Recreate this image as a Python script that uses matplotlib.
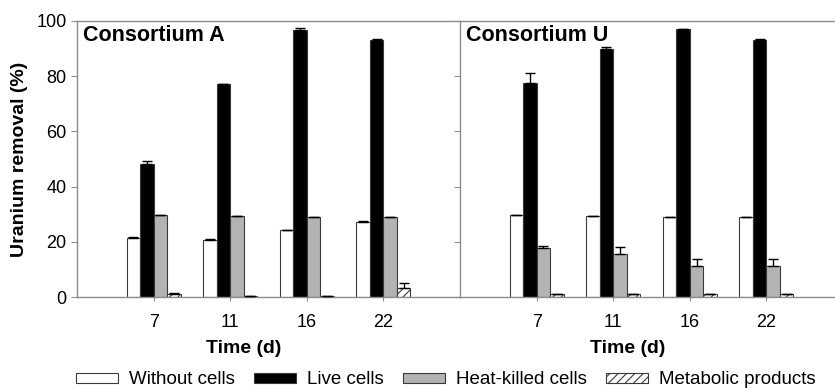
import numpy as np
import matplotlib
matplotlib.use('Agg')
import matplotlib.pyplot as plt
from matplotlib.patches import Patch

plt.rcParams['font.family'] = ['Liberation Sans', 'DejaVu Sans']
plt.rcParams['hatch.linewidth'] = 0.8

days = ['7', '11', '16', '22']
series = ['Without cells', 'Live cells', 'Heat-killed cells', 'Metabolic products']

# consortium A: mean and upper error per series
a_without = [21.5, 20.8, 24.3, 27.0]
a_without_err = [0.3, 0.3, 0.0, 0.4]
a_live = [48.1, 77.0, 96.7, 93.2]
a_live_err = [1.3, 0.0, 0.7, 0.2]
a_heat = [29.7, 29.3, 28.9, 28.9]
a_heat_err = [0.0, 0.0, 0.0, 0.2]
a_metab = [1.2, 0.2, 0.2, 3.4]
a_metab_err = [0.4, 0.0, 0.0, 1.8]

# consortium U
u_without = [29.7, 29.3, 28.9, 28.9]
u_without_err = [0.0, 0.0, 0.0, 0.0]
u_live = [77.7, 89.7, 97.2, 93.2]
u_live_err = [3.3, 0.9, 0.0, 0.2]
u_heat = [17.8, 15.4, 11.2, 11.2]
u_heat_err = [0.8, 2.6, 2.5, 2.5]
u_metab = [1.2, 1.2, 1.0, 1.0]
u_metab_err = [0.0, 0.0, 0.0, 0.0]

fills = ['white', 'black', '#b3b3b3', 'white']
hatches = [None, None, None, '////']
edge = '#3a3a3a'
spine_col = '#8c8c8c'


def draw_panel(ax, title, values, errors, label_x):
    x = np.arange(1, len(days) + 1)
    w = 0.176
    for i, (vals, errs) in enumerate(zip(values, errors)):
        pos = x + (i - 1.5) * w
        ax.bar(pos, vals, w, color=fills[i], edgecolor=edge, linewidth=0.8,
               hatch=hatches[i], zorder=2)
        ax.errorbar(pos, vals, yerr=[np.zeros(len(errs)), errs], fmt='none',
                    ecolor='black', elinewidth=1, capsize=3.5, capthick=1, zorder=3)
    ax.set_ylim(0, 100)
    ax.set_xticks(x)
    ax.set_xticklabels(days, fontsize=13)
    ax.set_xlabel('Time (d)', fontsize=14, fontweight='bold')
    ax.xaxis.set_label_coords(label_x, -0.155)
    ax.tick_params(axis='x', length=3, color=spine_col, pad=9)
    ax.tick_params(axis='y', length=4, color=spine_col, labelsize=13)
    for s in ax.spines.values():
        s.set_color(spine_col)
        s.set_linewidth(1)
    ax.spines['right'].set_visible(False)
    ax.text(0.015, 0.985, title, transform=ax.transAxes, fontsize=15.5,
            fontweight='bold', va='top', ha='left')


fig = plt.figure(figsize=(8.35, 3.9), dpi=100)
ax1 = fig.add_axes([77 / 835, 93 / 390, 383 / 835, 276 / 390])
ax2 = fig.add_axes([460 / 835, 93 / 390, 375 / 835, 276 / 390])

draw_panel(ax1, 'Consortium A', [a_without, a_live, a_heat, a_metab],
           [a_without_err, a_live_err, a_heat_err, a_metab_err], 0.436)
draw_panel(ax2, 'Consortium U', [u_without, u_live, u_heat, u_metab],
           [u_without_err, u_live_err, u_heat_err, u_metab_err], 0.448)

ax1.set_xlim(0, 5)
ax2.set_xlim(0, 375 / 76.6)
ax1.set_yticks(range(0, 101, 20))
ax1.set_ylabel('Uranium removal (%)', fontsize=14, fontweight='bold', labelpad=6)
ax2.set_yticks(range(0, 101, 20))
ax2.set_yticklabels([])

handles = [Patch(facecolor=fills[i], edgecolor=edge, hatch=hatches[i], linewidth=0.8)
           for i in range(len(series))]
fig.legend(handles, series, loc='center', bbox_to_anchor=(446 / 835, 10 / 390),
           ncol=4, frameon=False, fontsize=13.5, handlelength=2.25, handleheight=0.4,
           handletextpad=0.6, columnspacing=1.0, borderpad=0)

fig.savefig('out.png', dpi=100)
